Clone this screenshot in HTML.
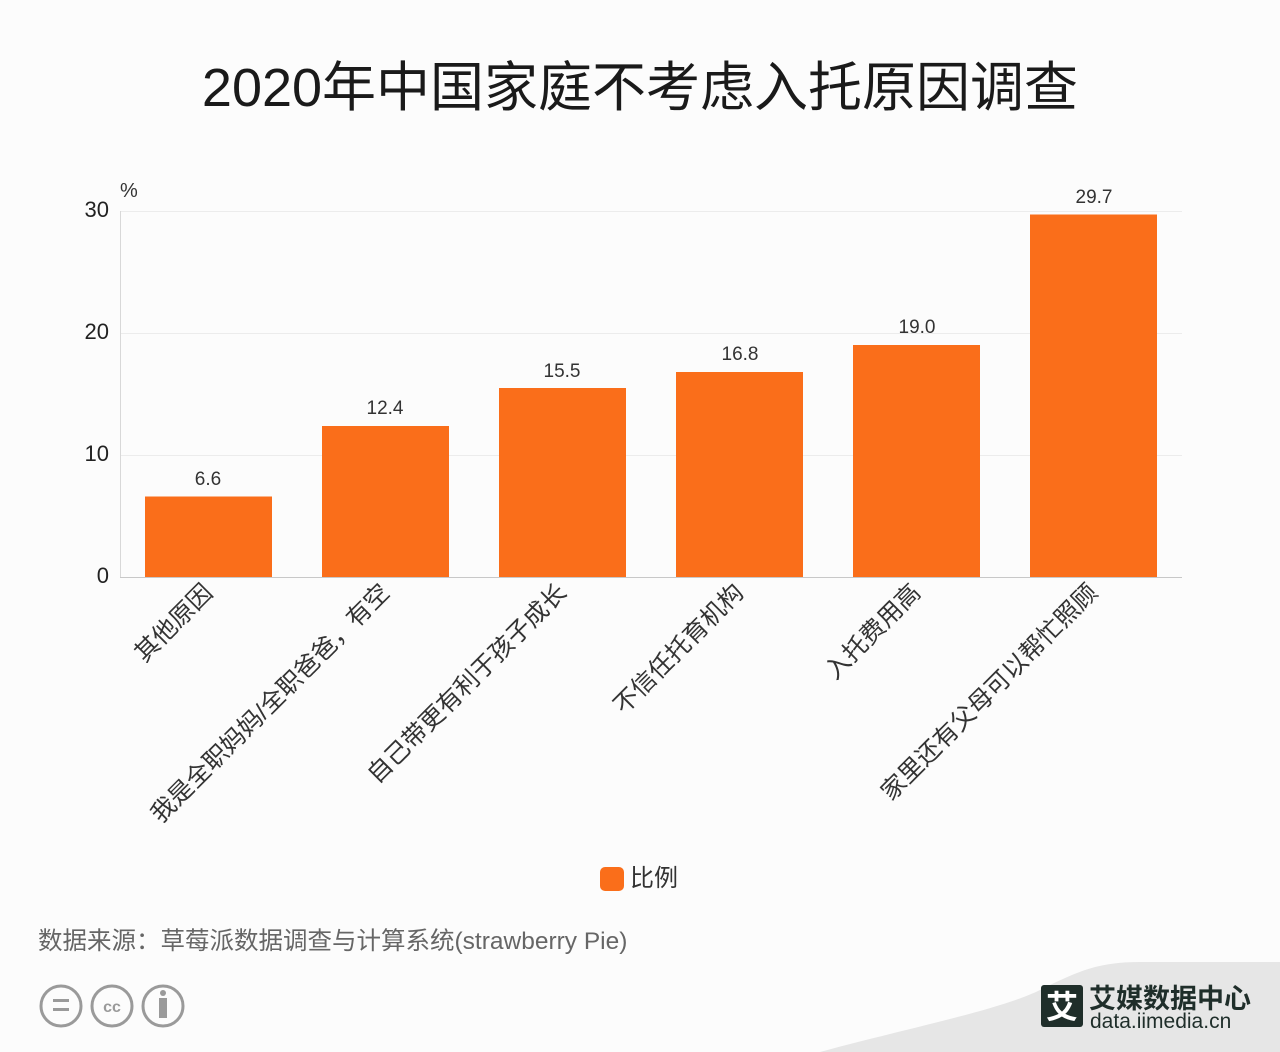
<!DOCTYPE html>
<html><head><meta charset="utf-8"><style>
html,body{margin:0;padding:0;background:#fcfcfc;}
svg{display:block;font-family:"Liberation Sans","Noto Sans CJK SC",sans-serif;}
</style></head><body>
<svg width="1280" height="1052" viewBox="0 0 1280 1052" xmlns="http://www.w3.org/2000/svg">
<rect width="1280" height="1052" fill="#fcfcfc"/>
<text x="640" y="106" text-anchor="middle" font-size="54" fill="#1a1a1a">2020年中国家庭不考虑入托原因调查</text>
<g stroke="#ececec" stroke-width="1">
<line x1="120" y1="211.5" x2="1182" y2="211.5"/>
<line x1="120" y1="333.5" x2="1182" y2="333.5"/>
<line x1="120" y1="455.5" x2="1182" y2="455.5"/>
</g>
<line x1="120.5" y1="211" x2="120.5" y2="577" stroke="#d8d8d8"/>
<line x1="120" y1="577.5" x2="1182" y2="577.5" stroke="#c8c8c8"/>
<g font-size="22" fill="#222" text-anchor="end">
<text x="109" y="217">30</text>
<text x="109" y="339">20</text>
<text x="109" y="461">10</text>
<text x="109" y="583">0</text>
</g>
<text x="120" y="197" font-size="20" fill="#333">%</text>
<g fill="#fa6e1a">
<rect x="145" y="496.5" width="127" height="80.5"/>
<rect x="322" y="426" width="127" height="151"/>
<rect x="499" y="388" width="127" height="189"/>
<rect x="676" y="372" width="127" height="205"/>
<rect x="853" y="345" width="127" height="232"/>
<rect x="1030" y="214.5" width="127" height="362.5"/>
</g>
<g font-size="19" fill="#333" text-anchor="middle">
<text x="208" y="485">6.6</text>
<text x="385" y="414">12.4</text>
<text x="562" y="377">15.5</text>
<text x="740" y="360">16.8</text>
<text x="917" y="333">19.0</text>
<text x="1094" y="203">29.7</text>
</g>
<g font-size="24.5" fill="#333" text-anchor="end">
<text transform="translate(214,594) rotate(-45)">其他原因</text>
<text transform="translate(391,594) rotate(-45)">我是全职妈妈/全职爸爸，有空</text>
<text transform="translate(568,594) rotate(-45)">自己带更有利于孩子成长</text>
<text transform="translate(745,594) rotate(-45)">不信任托育机构</text>
<text transform="translate(922,594) rotate(-45)">入托费用高</text>
<text transform="translate(1099,594) rotate(-45)">家里还有父母可以帮忙照顾</text>
</g>
<rect x="600" y="867" width="24" height="24" rx="5" fill="#fa6e1a"/>
<text x="630" y="886" font-size="24" fill="#333">比例</text>
<text x="38" y="949" font-size="24.5" fill="#666">数据来源：草莓派数据调查与计算系统(strawberry Pie)</text>
<g fill="none" stroke="#9a9a9a" stroke-width="3">
<circle cx="61" cy="1006" r="20"/><circle cx="112" cy="1006" r="20"/><circle cx="163" cy="1006" r="20"/>
</g>
<g fill="#9a9a9a">
<rect x="53" y="999" width="16" height="3"/><rect x="53" y="1008" width="16" height="3"/>
<circle cx="163" cy="993" r="3"/><rect x="159" y="998" width="8" height="20"/>
</g>
<text x="112" y="1012" font-size="16" fill="#9a9a9a" text-anchor="middle" font-weight="bold">cc</text>
<path d="M820 1052 C 900 1030 1000 1010 1040 990 C 1080 970 1100 962 1140 962 L1280 962 L1280 1052 Z" fill="#e6e6e6"/>
<rect x="1041" y="985" width="42" height="42" rx="3" fill="#1f2e2a"/>
<text x="1062" y="1018" font-size="32" fill="#fff" text-anchor="middle" font-weight="bold">艾</text>
<text x="1089" y="1008" font-size="27" fill="#1f2e2a" font-weight="bold">艾媒数据中心</text>
<text x="1090" y="1028" font-size="21" fill="#1f2e2a">data.iimedia.cn</text>
</svg>
</body></html>
